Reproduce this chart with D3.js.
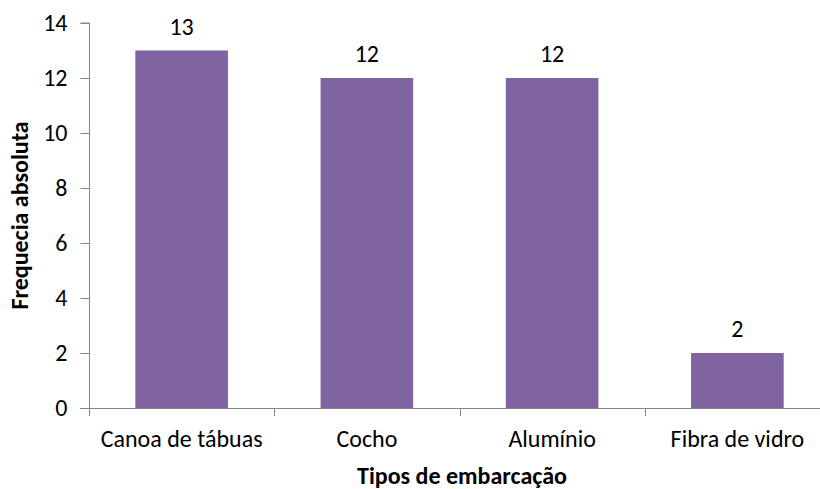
<!DOCTYPE html>
<html>
<head>
<meta charset="utf-8">
<script src="https://cdn.jsdelivr.net/npm/d3@7"></script>
<style>
  body { margin: 0; background: #fff; }
  text { font-family: Carlito, Calibri, "Open Sans", sans-serif; fill: #000; }
</style>
</head>
<body>
<div class="canvas"></div>
<script>
// chart data
const categories = ['Canoa de tábuas', 'Cocho', 'Alumínio', 'Fibra de vidro'];
const values = [13, 12, 12, 2];
const yTicks = [0, 2, 4, 6, 8, 10, 12, 14];

const width = 820, height = 489;
const margin = {top: 23, left: 89, bottom: 81};
const plotRight = 830;
const fontSize = '24px';

const svg = d3.select('.canvas')
  .append('svg')
    .attr('width', width)
    .attr('height', height)
    .style('overflow', 'hidden');

const y = d3.scaleLinear()
  .domain([0, 14])
  .range([height - margin.bottom, margin.top]);

const x = d3.scaleBand()
  .domain(categories)
  .range([margin.left, plotRight])
  .paddingInner(0.5)
  .paddingOuter(0.25);

const axisColor = '#868686';

// y axis
const yAxis = svg.append('g')
  .attr('transform', `translate(${margin.left + 0.5},0)`)
  .call(d3.axisLeft(y).tickValues(yTicks).tickSize(9).tickPadding(13));
yAxis.selectAll('text').style('font-size', fontSize).attr('fill', '#000');
yAxis.selectAll('line, path').attr('stroke', axisColor);
yAxis.select('.domain').attr('d', `M-9,${y(14)}H0V${y(0)}`);

// x axis: ticks between categories
const xBottom = y(0);
svg.append('line')
  .attr('x1', margin.left - 9).attr('x2', plotRight)
  .attr('y1', xBottom + 0.5).attr('y2', xBottom + 0.5)
  .attr('stroke', axisColor);
const step = x.step();
d3.range(categories.length + 1).forEach(i => {
  const xp = Math.round(margin.left + i * step) + 0.5;
  svg.append('line')
    .attr('x1', xp).attr('x2', xp)
    .attr('y1', xBottom).attr('y2', xBottom + 8)
    .attr('stroke', axisColor);
});

svg.selectAll('.xlabel')
  .data(categories)
  .enter().append('text')
    .attr('class', 'xlabel')
    .attr('x', d => x(d) + x.bandwidth() / 2)
    .attr('y', xBottom + 39)
    .attr('text-anchor', 'middle')
    .style('font-size', fontSize)
    .text(d => d);

// bars
svg.selectAll('rect.bar')
  .data(values)
  .enter().append('rect')
    .attr('class', 'bar')
    .attr('x', (d, i) => x(categories[i]))
    .attr('y', d => y(d))
    .attr('width', x.bandwidth())
    .attr('height', d => y(0) - y(d))
    .attr('fill', '#8064A2');

// value labels
svg.selectAll('.vlabel')
  .data(values)
  .enter().append('text')
    .attr('class', 'vlabel')
    .attr('x', (d, i) => x(categories[i]) + x.bandwidth() / 2)
    .attr('y', d => y(d) - 16)
    .attr('text-anchor', 'middle')
    .style('font-size', fontSize)
    .text(d => d);

// axis titles
svg.append('text')
  .attr('x', 462)
  .attr('y', 484)
  .attr('text-anchor', 'middle')
  .style('font-size', fontSize)
  .style('font-weight', 'bold')
  .text('Tipos de embarcação');

svg.append('text')
  .attr('transform', `translate(28,${(y(0) + y(14)) / 2}) rotate(-90)`)
  .attr('text-anchor', 'middle')
  .style('font-size', fontSize)
  .style('font-weight', 'bold')
  .text('Frequecia absoluta');
</script>
</body>
</html>
